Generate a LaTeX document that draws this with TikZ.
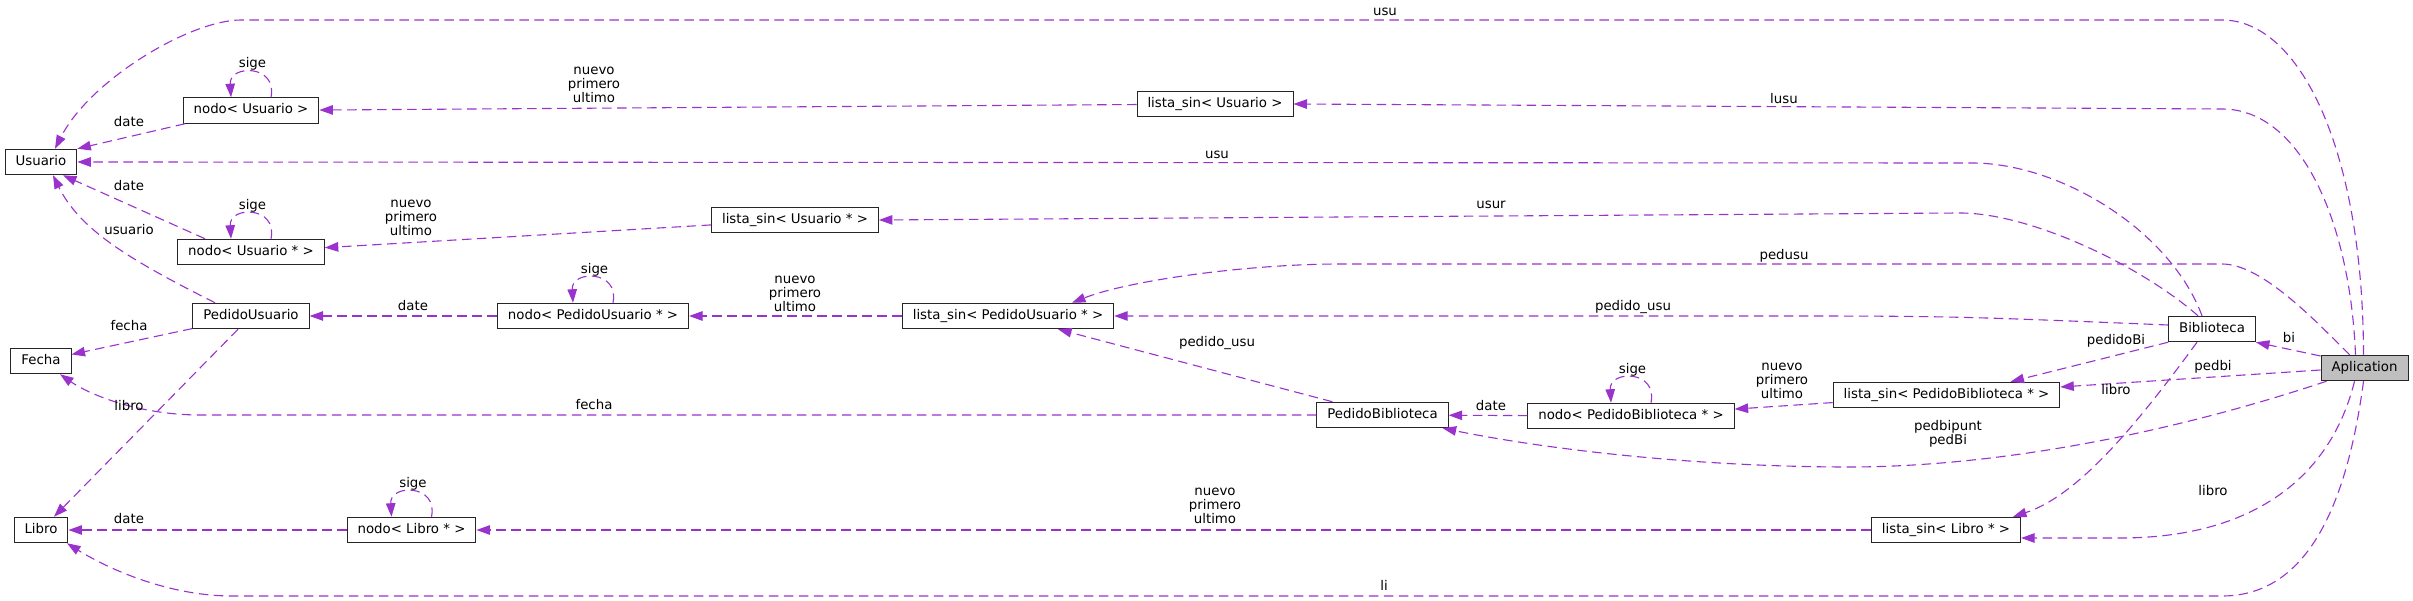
\documentclass[tikz,border=0pt]{standalone}
\usepackage{fontspec}
\setmainfont{DejaVu Sans}
\usetikzlibrary{arrows.meta}
\definecolor{violeta}{HTML}{9A32CD}
\tikzset{
  clase/.style={draw=black!85, line width=1pt, fill=white, inner xsep=10.5pt, inner ysep=0pt,
    minimum height=25.5pt, text height=9.8pt, text depth=2.8pt},
  uso/.style={draw=violeta, line width=1.1pt, dash pattern=on 9.5pt off 5.5pt,
    -{Triangle[length=13.5pt,width=9.5pt]}},
  etiq/.style={inner sep=0pt, text height=9.8pt, text depth=2.8pt},
  etiqm/.style={inner sep=0pt, align=center},
}
\begin{document}
\begin{tikzpicture}[x=1pt,y=-1pt,font=\fontsize{13.33}{14.3}\selectfont]%colaboracion de Aplication
\path[use as bounding box, fill=white] (0,0) rectangle (2413,601);

\node[clase] (usuario) at (41,162) {Usuario};
\node[clase] (fecha) at (41,361) {Fecha};
\node[clase] (libro) at (41,530) {Libro};
\node[clase] (nodoU) at (251,110.5) {nodo< Usuario >};
\node[clase] (nodoUp) at (251,252) {nodo< Usuario * >};
\node[clase] (pedidoU) at (251,316) {PedidoUsuario};
\node[clase] (nodoL) at (411.5,530) {nodo< Libro * >};
\node[clase] (nodoPU) at (593,316) {nodo< PedidoUsuario * >};
\node[clase] (listaUp) at (795,220) {lista\_sin< Usuario * >};
\node[clase] (listaPU) at (1008,316) {lista\_sin< PedidoUsuario * >};
\node[clase] (listaU) at (1215,104) {lista\_sin< Usuario >};
\node[clase] (pedidoB) at (1382.5,415) {PedidoBiblioteca};
\node[clase] (nodoPB) at (1631,416) {nodo< PedidoBiblioteca * >};
\node[clase] (listaPB) at (1946.5,395) {lista\_sin< PedidoBiblioteca * >};
\node[clase] (listaL) at (1946,530) {lista\_sin< Libro * >};
\node[clase] (biblio) at (2212,329) {Biblioteca};
\node[clase, fill=black!25] (aplic) at (2364.5,368) {Aplication};

% lazos sige
\foreach \n in {nodoU,nodoUp,nodoPU,nodoPB,nodoL} {
  \draw[uso] ([xshift=20pt]\n.north) .. controls +(7,-33) and +(-2,-33) .. ([xshift=-20pt]\n.north);
  \node[etiq] (sige-\n) at ([xshift=1.5pt,yshift=33pt]\n.north) {sige};
}

\draw[uso] ([xshift=-1pt]aplic.north) .. controls (2363,150) and (2300,20) .. (2222,20)
  -- (241,20) .. controls (190,20) and (90,80) .. ([xshift=14pt]usuario.north);
\draw[uso] ([xshift=-9pt]aplic.north) .. controls (2350,220) and (2300,109) .. (2222,109) -- (listaU.east);
\draw[uso] ([xshift=-15pt]aplic.north) .. controls (2310,315) and (2260,264) .. (2222,264)
  -- (1340,264) .. controls (1250,264) and (1130,280) .. ([xshift=64pt]listaPU.north);
\draw[uso] ([yshift=12pt]aplic.west) -- (biblio.south east);
\draw[uso] ([yshift=-2pt]aplic.west) -- ([yshift=8pt]listaPB.east);
\draw[uso] ([xshift=6pt]aplic.south west) .. controls (2150,440) and (1980,467) .. (1849,467)
  .. controls (1700,467) and (1550,450) .. ([xshift=-6pt]pedidoB.south east);
\draw[uso] ([xshift=-10pt]aplic.south) .. controls (2330,480) and (2250,538) .. (2120,538)
  -- ([yshift=-8pt]listaL.east);
\draw[uso] ([xshift=-1pt]aplic.south) .. controls (2345,520) and (2300,596) .. (2222,596)
  -- (232,596) .. controls (170,596) and (110,570) .. ([xshift=26pt]libro.south);

\draw[uso] ([xshift=-10pt]biblio.north) .. controls (2170,230) and (2060,163) .. (1972,163) -- (usuario.east);
\draw[uso] ([xshift=-14pt]biblio.north) .. controls (2140,265) and (2030,213) .. (1960,213) -- (listaUp.east);
\draw[uso] ([yshift=4pt]biblio.west) .. controls (1950,316) .. (1750,316) -- (listaPU.east);
\draw[uso] (biblio.south west) -- ([xshift=64pt]listaPB.north);
\draw[uso] ([xshift=-15pt]biblio.south) .. controls (2140,420) and (2080,495) .. ([xshift=67pt]listaL.north);

\draw[uso] (listaU) -- (nodoU);
\draw[uso] ([xshift=-66pt]nodoU.south) -- (usuario.north east);
\draw[uso] (listaUp) -- (nodoUp);
\draw[uso] ([xshift=-46pt]nodoUp.north) -- ([xshift=22pt]usuario.south);
\draw[uso] ([xshift=-36pt]pedidoU.north) .. controls (130,260) and (80,230) .. ([xshift=12pt]usuario.south);
\draw[uso] (pedidoU) -- (fecha);
\draw[uso] (pedidoU) -- (libro);
\draw[uso] (nodoPU) -- (pedidoU);
\draw[uso] (listaPU) -- (nodoPU);
\draw[uso] (pedidoB) -- (listaPU);
\draw[uso] (pedidoB.west) -- (200,415) .. controls (140,415) and (90,395) .. ([xshift=19pt]fecha.south);
\draw[uso] (nodoPB) -- (pedidoB);
\draw[uso] (listaPB) -- (nodoPB);
\draw[uso] (listaL) -- (nodoL);
\draw[uso] (nodoL) -- (libro);

% etiquetas
\node[etiq] (e-usu1) at (1385,12) {usu};
\node[etiq] (e-lusu) at (1784,100) {lusu};
\node[etiq] (e-usu2) at (1217,155) {usu};
\node[etiq] (e-usur) at (1491,205) {usur};
\node[etiq] (e-pedusu) at (1784,256) {pedusu};
\node[etiq] (e-date1) at (129,123) {date};
\node[etiq] (e-date2) at (129,187) {date};
\node[etiq] (e-usuario) at (129,231) {usuario};
\node[etiq] (e-date3) at (413,307) {date};
\node[etiq] (e-pedusu1) at (1633,307) {pedido\_usu};
\node[etiq] (e-fecha1) at (129,327) {fecha};
\node[etiq] (e-pedusu2) at (1217,343) {pedido\_usu};
\node[etiq] (e-pedidoBi) at (2116,341) {pedidoBi};
\node[etiq] (e-bi) at (2289,339) {bi};
\node[etiq] (e-pedbi) at (2213,367) {pedbi};
\node[etiq] (e-libro1) at (2116,391) {libro};
\node[etiq] (e-fecha2) at (594,406) {fecha};
\node[etiq] (e-libro2) at (129,407) {libro};
\node[etiq] (e-date4) at (1491,407) {date};
\node[etiq] (e-libro3) at (2213,492) {libro};
\node[etiq] (e-date5) at (129,520) {date};
\node[etiq] (e-li) at (1384,587) {li};
\node[etiqm] (e-npu1) at (594,85) {nuevo\\primero\\ultimo};
\node[etiqm] (e-npu2) at (411,218) {nuevo\\primero\\ultimo};
\node[etiqm] (e-npu3) at (795,294) {nuevo\\primero\\ultimo};
\node[etiqm] (e-npu4) at (1782,381) {nuevo\\primero\\ultimo};
\node[etiqm] (e-npu5) at (1215,506) {nuevo\\primero\\ultimo};
\node[etiqm] (e-pedbipunt) at (1948,434) {pedbipunt\\pedBi};
\end{tikzpicture}
\end{document}
